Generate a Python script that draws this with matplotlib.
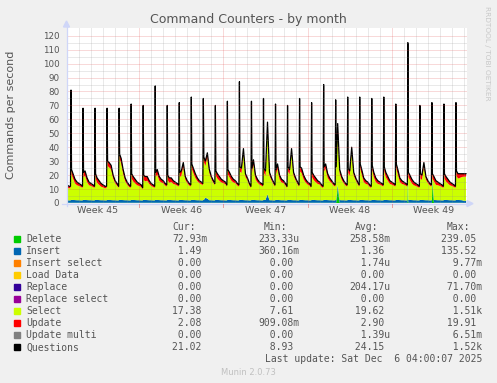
import matplotlib
matplotlib.use("Agg")
import matplotlib.pyplot as plt
from matplotlib.lines import Line2D
from matplotlib.patches import Polygon, Rectangle

W, H = 497, 383

# sample hours inside each day (day 0 starts at the left edge of the plot)
hours = [0, 4, 7, 8, 9, 12, 16, 20]

# Questions per second, one row per day
questions = [
    [13, 12, 12, 81, 24, 21, 17, 15],
    [14, 13, 12, 68, 22, 23, 18, 15],
    [14, 13, 12, 68, 21, 18, 16, 14],
    [13, 12, 12, 68, 30, 29, 27, 20],
    [16, 14, 12, 68, 35, 32, 24, 18],
    [15, 13, 12, 71, 21, 19, 17, 15],
    [14, 13, 11, 70, 20, 19, 19, 16],
    [14, 13, 12, 84, 22, 24, 19, 17],
    [16, 14, 13, 70, 20, 18, 18, 16],
    [15, 14, 13, 72, 22, 23, 29, 19],
    [16, 14, 13, 76, 28, 25, 21, 18],
    [16, 15, 14, 75, 33, 30, 36, 24],
    [19, 16, 14, 70, 23, 21, 19, 17],
    [16, 15, 13, 73, 24, 22, 19, 17],
    [16, 14, 13, 87, 26, 25, 39, 21],
    [18, 14, 12, 73, 25, 31, 20, 17],
    [15, 14, 13, 75, 25, 23, 58, 22],
    [18, 15, 13, 71, 24, 28, 20, 17],
    [16, 14, 12, 70, 26, 24, 39, 22],
    [18, 15, 13, 75, 26, 25, 20, 17],
    [15, 14, 12, 72, 22, 20, 18, 16],
    [15, 13, 12, 85, 26, 28, 21, 18],
    [16, 14, 13, 74, 26, 57, 24, 19],
    [16, 14, 13, 76, 25, 23, 40, 22],
    [18, 15, 13, 76, 28, 24, 18, 16],
    [15, 13, 12, 75, 27, 22, 18, 16],
    [15, 14, 13, 76, 26, 22, 19, 16],
    [15, 14, 13, 71, 28, 24, 18, 16],
    [15, 14, 13, 115, 22, 20, 17, 15],
    [14, 13, 12, 70, 21, 20, 29, 19],
    [16, 14, 13, 72, 21, 19, 16, 15],
    [14, 13, 12, 71, 21, 19, 17, 15],
    [14, 13, 12, 72, 23, 21, 21, 21],
    [21, 21],
]

select = [
    [9.2, 8.6, 8.8, 75.8, 18.3, 15.3, 11.9, 10.7],
    [10.2, 9.6, 8.8, 62.8, 16.3, 17.3, 12.9, 10.7],
    [10.2, 9.6, 8.8, 62.8, 15.3, 12.3, 10.9, 9.7],
    [9.2, 8.6, 8.8, 62.8, 24.3, 23.3, 21.9, 15.7],
    [12.2, 10.6, 8.8, 62.8, 29.3, 26.3, 18.9, 13.7],
    [11.2, 9.6, 8.8, 65.8, 15.3, 13.3, 11.9, 10.7],
    [10.2, 9.6, 7.8, 64.8, 14.3, 13.3, 13.9, 11.7],
    [10.2, 9.6, 8.8, 78.8, 16.3, 18.3, 13.9, 12.7],
    [12.2, 10.6, 9.8, 64.8, 14.3, 12.3, 12.9, 11.7],
    [11.2, 10.6, 9.8, 66.8, 16.3, 17.3, 23.9, 14.7],
    [12.2, 10.6, 9.8, 70.8, 22.3, 19.3, 15.9, 13.7],
    [12.2, 11.6, 10.8, 69.8, 27.3, 22.8, 29.8, 19.7],
    [15.2, 12.6, 10.8, 64.8, 17.3, 15.3, 13.9, 12.7],
    [12.2, 11.6, 9.8, 67.8, 18.3, 16.3, 13.9, 12.7],
    [12.2, 10.6, 9.8, 81.8, 20.3, 19.3, 33.9, 16.7],
    [14.2, 10.6, 8.8, 67.8, 19.3, 25.3, 14.9, 12.7],
    [11.2, 10.6, 9.8, 69.8, 19.3, 17.3, 48.8, 17.7],
    [14.2, 11.6, 9.8, 65.8, 18.3, 22.3, 14.9, 12.7],
    [12.2, 10.6, 8.8, 64.8, 20.3, 18.3, 33.9, 17.7],
    [14.2, 11.6, 9.8, 69.8, 20.3, 19.3, 14.9, 12.7],
    [11.2, 10.6, 8.8, 66.8, 16.3, 14.3, 12.9, 11.7],
    [11.2, 9.6, 8.8, 79.8, 20.3, 22.3, 15.9, 13.7],
    [12.2, 10.6, 9.8, 68.8, 20.3, 40.5, 18.9, 14.7],
    [12.2, 10.6, 9.8, 70.8, 19.3, 17.3, 34.9, 17.7],
    [14.2, 11.6, 9.8, 70.8, 22.3, 18.3, 12.9, 11.7],
    [11.2, 9.6, 8.8, 69.8, 21.3, 16.3, 12.9, 11.7],
    [11.2, 10.6, 9.8, 70.8, 20.3, 16.3, 13.9, 11.7],
    [11.2, 10.6, 9.8, 65.8, 22.3, 18.3, 12.9, 11.7],
    [11.2, 10.6, 9.8, 85.0, 16.3, 14.3, 11.9, 10.7],
    [10.2, 9.6, 8.8, 64.8, 15.3, 14.3, 23.9, 14.7],
    [12.2, 10.6, 9.8, 66.8, 0.5, 13.3, 10.9, 10.7],
    [10.2, 9.6, 8.8, 65.8, 15.3, 13.3, 11.9, 10.7],
    [10.2, 9.6, 8.8, 66.8, 17.3, 15.3, 15.9, 16.7],
    [17.3, 17.3],
]

update = [
    [1.8, 1.5, 1.3, 3.0, 3.5, 3.5, 3.0, 2.3] for _ in range(33)
] + [[2.1, 2.1]]

insert = [
    [1.8, 1.7, 1.7, 2.0, 2.0, 2.0, 1.9, 1.8],  # 0
    [1.8, 1.7, 1.7, 2.0, 2.0, 2.0, 1.9, 1.8],
    [1.8, 1.7, 1.7, 2.0, 2.0, 2.0, 1.9, 1.8],
    [1.8, 1.7, 1.7, 2.0, 2.0, 2.0, 1.9, 1.8],
    [1.8, 1.7, 1.7, 2.0, 2.0, 2.0, 1.9, 1.8],
    [1.8, 1.7, 1.7, 2.0, 2.0, 2.0, 1.9, 1.8],  # 5
    [1.8, 1.7, 1.7, 2.0, 2.0, 2.0, 1.9, 1.8],
    [1.8, 1.7, 1.7, 2.0, 2.0, 2.0, 1.9, 1.8],
    [1.8, 1.7, 1.7, 2.0, 2.0, 2.0, 1.9, 1.8],
    [1.8, 1.7, 1.7, 2.0, 2.0, 2.0, 1.9, 1.8],
    [1.8, 1.7, 1.7, 2.0, 2.0, 2.0, 1.9, 1.8],  # 10
    [1.8, 1.7, 1.7, 2.0, 2.0, 3.5, 3.0, 1.8],
    [1.8, 1.7, 1.7, 2.0, 2.0, 2.0, 1.9, 1.8],
    [1.8, 1.7, 1.7, 2.0, 2.0, 2.0, 1.9, 1.8],
    [1.8, 1.7, 1.7, 2.0, 2.0, 2.0, 1.9, 1.8],
    [1.8, 1.7, 1.7, 2.0, 2.0, 2.0, 1.9, 1.8],  # 15
    [1.8, 1.7, 1.7, 2.0, 2.0, 2.0, 6.0, 1.8],
    [1.8, 1.7, 1.7, 2.0, 2.0, 2.0, 1.9, 1.8],
    [1.8, 1.7, 1.7, 2.0, 2.0, 2.0, 1.9, 1.8],
    [1.8, 1.7, 1.7, 2.0, 2.0, 2.0, 1.9, 1.8],
    [1.8, 1.7, 1.7, 2.0, 2.0, 2.0, 1.9, 1.8],  # 20
    [1.8, 1.7, 1.7, 2.0, 2.0, 2.0, 1.9, 1.8],
    [1.8, 1.7, 1.7, 2.0, 2.0, 3.0, 1.9, 1.8],
    [1.8, 1.7, 1.7, 2.0, 2.0, 2.0, 1.9, 1.8],
    [1.8, 1.7, 1.7, 2.0, 2.0, 2.0, 1.9, 1.8],
    [1.8, 1.7, 1.7, 2.0, 2.0, 2.0, 1.9, 1.8],  # 25
    [1.8, 1.7, 1.7, 2.0, 2.0, 2.0, 1.9, 1.8],
    [1.8, 1.7, 1.7, 2.0, 2.0, 2.0, 1.9, 1.8],
    [1.8, 1.7, 1.7, 2.0, 2.0, 2.0, 1.9, 1.8],
    [1.8, 1.7, 1.7, 2.0, 2.0, 2.0, 1.9, 1.8],
    [1.8, 1.7, 1.7, 2.0, 2.0, 2.0, 1.9, 1.8],  # 30
    [1.8, 1.7, 1.7, 2.0, 2.0, 2.0, 1.9, 1.8],
    [1.8, 1.7, 1.7, 2.0, 2.0, 2.0, 1.9, 1.8],
    [1.5, 1.5],
]

delete = [[0.2] * 8 for _ in range(33)] + [[0.1, 0.1]]
delete[22][5] = 10.0
delete[28][3] = 25.0
delete[30][4] = 15.0

week_labels = ["Week 45", "Week 46", "Week 47", "Week 48", "Week 49"]
week_mid = [2.5, 9.5, 16.5, 23.5, 30.5]      # days from left edge
week_bounds = [6, 13, 20, 27]

names = ["Delete", "Insert", "Insert select", "Load Data", "Replace",
         "Replace select", "Select", "Update", "Update multi", "Questions"]
colors = ["#00CC00", "#0066B3", "#FF8000", "#FFCC00", "#330099",
          "#990099", "#CCFF00", "#FF0000", "#808080", "#000000"]
cur = ["72.93m", "1.49", "0.00", "0.00", "0.00", "0.00", "17.38", "2.08", "0.00", "21.02"]
mins = ["233.33u", "360.16m", "0.00", "0.00", "0.00", "0.00", "7.61", "909.08m", "0.00", "8.93"]
avgs = ["258.58m", "1.36", "1.74u", "0.00", "204.17u", "0.00", "19.62", "2.90", "1.39u", "24.15"]
maxs = ["239.05", "135.52", "9.77m", "0.00", "71.70m", "0.00", "1.51k", "19.91", "6.51m", "1.52k"]


def flat(rows):
    return [v for row in rows for v in row]


t = [d + h / 24 for d, row in enumerate(questions) for h in hours[:len(row)]]


def fx(x):
    return x / W


def fy(y):
    return 1 - y / H


FONT = "#555555"
AXIS = "#CFD6F8"
GRID = (0.56, 0.56, 0.56, 0.45)
MGRID = (0.87, 0.31, 0.31, 0.5)

fig = plt.figure(figsize=(W / 100, H / 100), dpi=100, facecolor="#F0F0F0")
ax = fig.add_axes([fx(67), fy(203), 400 / W, 175 / H], facecolor="white")

ax.stackplot(t, flat(delete), flat(insert), flat(select), flat(update),
             colors=[colors[0], colors[1], colors[6], colors[7]], linewidth=0)
ax.plot(t, flat(questions), color="black", lw=0.9)

ax.set_xlim(0, 400 / 12.03)
ax.set_ylim(0, 175 / 1.394)

# dotted grid on top of the areas, like rrdtool
for y in range(5, 125, 5):
    ax.axhline(y, color=MGRID if y % 10 == 0 else GRID, lw=0.6,
               ls=(0, (1.2, 1.2)), zorder=5)
for d in range(1, 34):
    ax.axvline(d, color=MGRID if d in week_bounds else GRID, lw=0.6,
               ls=(0, (1.2, 1.2)), zorder=5)

ax.set_yticks(range(0, 121, 10))
ax.set_xticks(week_mid)
ax.set_xticklabels(week_labels)
ax.tick_params(axis="y", length=0, pad=5.5, labelsize=6.3, labelcolor=FONT)
ax.tick_params(axis="x", length=0, pad=2.5, labelsize=6.8, labelcolor=FONT)
for s in ax.spines.values():
    s.set_visible(False)

# axes with arrows, just outside the canvas
fig.add_artist(Line2D([fx(62), fx(468)], [fy(203.6), fy(203.6)], color=AXIS, lw=0.9))
fig.add_artist(Line2D([fx(66.5), fx(66.5)], [fy(206), fy(26)], color=AXIS, lw=0.9))
fig.add_artist(Polygon([(fx(467), fy(200.6)), (fx(473), fy(203.6)), (fx(467), fy(206.6))],
                       closed=True, color=AXIS))
fig.add_artist(Polygon([(fx(63.5), fy(27)), (fx(66.5), fy(21)), (fx(69.5), fy(27))],
                       closed=True, color=AXIS))
for d in week_bounds:
    xp = 67 + d * 12.03
    fig.add_artist(Line2D([fx(xp), fx(xp)], [fy(204), fy(207)], color=MGRID, lw=0.7))

fig.text(0.5, fy(19), "Command Counters - by month", ha="center", va="center",
         fontsize=9, color=FONT)
fig.text(fx(11), fy(115), "Commands per second", ha="center", va="center",
         rotation=90, fontsize=8, color=FONT)
fig.text(fx(487), fy(53), "RRDTOOL / TOBI OETIKER", ha="center", va="center",
         rotation=270, fontsize=5.3, color="#C8C8C8")

# legend table
mono = "DejaVu Sans Mono"
fs = 7
for label, x in [("Cur:", 172.3), ("Min:", 263.3), ("Avg:", 355), ("Max:", 446.7)]:
    fig.text(fx(x), fy(227.3), label, ha="left", va="center", family=mono,
             fontsize=fs, color=FONT)


def cell(v, width):
    s = v if v[-1].isalpha() else v + " "
    return s.rjust(width)


for i, name in enumerate(names):
    y = 239.3 + 12 * i
    fig.add_artist(Rectangle((fx(14), fy(y + 3)), 6 / W, 6 / H, color=colors[i]))
    fig.text(fx(26.3), fy(y), name, ha="left", va="center", family=mono,
             fontsize=fs, color=FONT)
    fig.text(fx(172.3), fy(y), cell(cur[i], 6), ha="left", va="center",
             family=mono, fontsize=fs, color=FONT)
    fig.text(fx(258.3), fy(y), cell(mins[i], 7), ha="left", va="center",
             family=mono, fontsize=fs, color=FONT)
    fig.text(fx(349.3), fy(y), cell(avgs[i], 7), ha="left", va="center",
             family=mono, fontsize=fs, color=FONT)
    fig.text(fx(441), fy(y), cell(maxs[i], 7), ha="left", va="center",
             family=mono, fontsize=fs, color=FONT)

fig.text(fx(482.5), fy(359), "Last update: Sat Dec  6 04:00:07 2025", ha="right",
         va="center", family=mono, fontsize=fs, color=FONT)
fig.text(fx(248), fy(372.3), "Munin 2.0.73", ha="center", va="center",
         fontsize=6, color="#C0C0C0")

fig.savefig("out.png", dpi=100, facecolor=fig.get_facecolor())
